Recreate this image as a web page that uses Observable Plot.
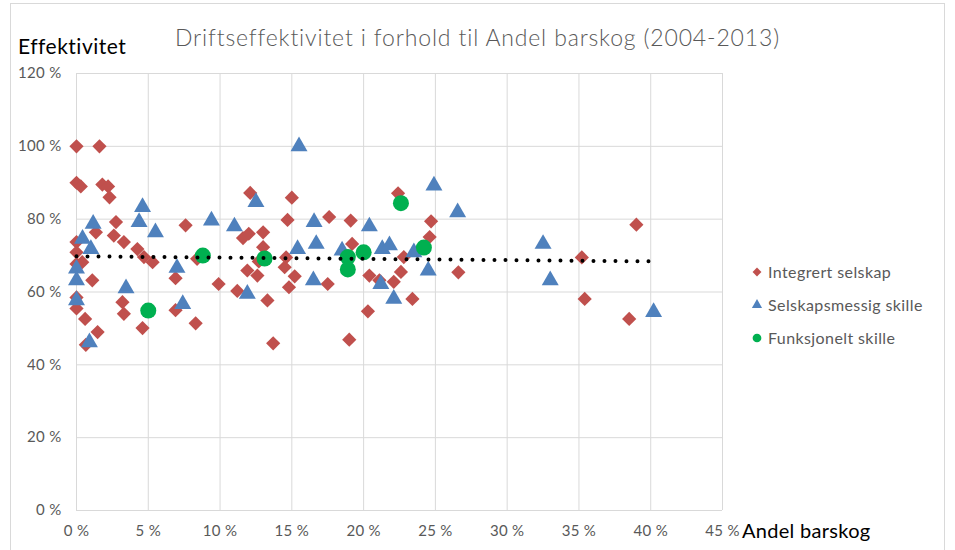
<!DOCTYPE html>
<html>
<head>
<meta charset="utf-8">
<script src="https://cdn.jsdelivr.net/npm/d3@7"></script>
<script src="https://cdn.jsdelivr.net/npm/@observablehq/plot@0.6"></script>
<style>
  html, body { margin: 0; padding: 0; background: #fff; }
  #chart { position: relative; width: 955px; height: 550px; overflow: hidden; font-family: Lato, "Open Sans", sans-serif; }
  #frame { position: absolute; left: 10px; top: 3px; width: 935px; height: 560px; border: 1px solid #d9d9d9; box-sizing: border-box; }
  #title { position: absolute; left: 0; width: 955px; top: 23px; text-align: center; font-size: 23px; letter-spacing: 0.85px; color: #595959; font-weight: 300; }
  #ylab { position: absolute; left: 18px; top: 33px; font-size: 21px; letter-spacing: 0.5px; color: #000; }
  #xlab { position: absolute; left: 742px; top: 518px; font-size: 20px; letter-spacing: 0.3px; color: #000; }
  #legend { position: absolute; left: 751px; top: 255px; font-size: 16px; letter-spacing: 0.4px; color: #595959; }
  .item { display: flex; align-items: center; height: 33px; }
  .item svg { margin-right: 5px; }
  #plot { position: absolute; left: 0; top: 0; }
</style>
</head>
<body>
<div id="chart">
  <div id="frame"></div>
  <div id="plot"></div>
  <div id="title">Driftseffektivitet i forhold til Andel barskog (2004-2013)</div>
  <div id="ylab">Effektivitet</div>
  <div id="xlab">Andel barskog</div>
  <div id="legend"></div>
</div>
<script>
// Data: [Andel barskog %, Effektivitet %]
const integrert = [
  [0.0,100],[1.6,100],[0.0,90],[0.3,89],[1.8,89.5],[2.2,89],[2.3,86],
  [2.75,79.2],[1.35,76.4],[2.6,75.5],[3.3,73.7],[0.0,73.7],[0.0,70.9],[0.4,68.2],[0.0,67.7],
  [1.1,63.2],[0.0,58.5],[0.0,55.5],[0.6,52.6],[1.47,49],[0.65,45.5],
  [4.24,71.8],[4.7,69.6],[5.3,68.2],[3.2,57.2],[3.3,54],[4.6,50.1],
  [7.6,78.3],[8.4,69.1],[6.9,63.8],[6.9,55],[8.3,51.4],[9.9,62.2],[11.2,60.3],
  [12.1,87.2],[11.6,74.8],[12.0,76.0],[13.0,76.4],[13.0,72.3],[12.7,68.4],[11.9,65.9],[12.6,64.5],
  [13.3,57.7],[13.7,45.9],[15.0,85.9],[14.7,79.8],[14.6,69.5],[14.5,66.8],[15.2,64.3],[14.8,61.3],
  [17.6,80.6],[17.5,62.2],[19.1,79.6],[19.2,73.2],[19.0,46.9],
  [20.4,64.5],[21.1,63.2],[20.3,54.7],[22.4,87.1],[22.8,69.6],[22.6,65.5],[22.1,62.8],[23.4,58.1],
  [24.7,79.4],[24.6,75.1],[26.6,65.4],[35.2,69.5],[35.4,58.1],[38.5,52.6],[39.0,78.5]
];
const selskapsmessig = [
  [0.0,66.4],[0.0,63.2],[0.0,57.7],[0.9,46.2],[0.42,74.6],[1.0,71.8],[1.16,78.7],
  [3.45,61],[4.6,83.3],[4.36,79.2],[5.5,76.4],[7.0,66.6],[7.4,56.7],[9.4,79.6],[11.0,78],
  [12.5,84.7],[11.9,59.5],[15.5,100],[15.4,71.8],[16.55,79.2],[16.7,73.2],[16.5,63.2],
  [18.5,71.4],[20.4,78],[21.3,71.8],[21.8,72.8],[21.2,62.2],[22.1,58.1],[23.5,70.9],
  [24.9,89.2],[24.5,65.9],[26.55,81.9],[32.5,73.2],[33.0,63.2],[40.2,54.5]
];
const funksjonelt = [
  [5.0,54.9],[8.8,70.0],[13.1,69.2],[18.9,69.6],[18.9,66.2],[20.0,70.9],[22.6,84.4],[24.2,72.2]
];
const trend = [[0,69.8],[40.2,68.4]];
const xTicks = [0,5,10,15,20,25,30,35,40,45];
const yTicks = [0,20,40,60,80,100,120];
const seriesNames = ["Integrert selskap","Selskapsmessig skille","Funksjonelt skille"];
const seriesColors = ["#C0504D","#4F81BD","#00B050"];

const pct = d => d + " %";

const chart = Plot.plot({
  width: 955,
  height: 550,
  marginLeft: 76,
  marginRight: 233,
  marginTop: 73,
  marginBottom: 40,
  style: {fontFamily: "Lato, sans-serif", fontSize: "15px", letterSpacing: "0.3px", color: "#595959", background: "transparent"},
  x: {domain: [0, 45], label: null},
  y: {domain: [0, 120], label: null},
  marks: [
    Plot.gridX(xTicks, {stroke: "#d9d9d9", strokeOpacity: 1, strokeWidth: 1}),
    Plot.gridY(yTicks, {stroke: "#d9d9d9", strokeOpacity: 1, strokeWidth: 1}),
    Plot.axisX(xTicks, {tickSize: 0, tickPadding: 15, tickFormat: pct, fill: "#595959", label: null}),
    Plot.axisY(yTicks, {tickSize: 0, tickPadding: 15, tickFormat: pct, fill: "#595959", label: null}),
    Plot.dot(integrert, {x: d => d[0], y: d => d[1], symbol: "diamond2", r: 6.4, fill: seriesColors[0], stroke: null}),
    Plot.dot(selskapsmessig, {x: d => d[0], y: d => d[1], symbol: "triangle", r: 6.3, fill: seriesColors[1], stroke: null}),
    Plot.dot(funksjonelt, {x: d => d[0], y: d => d[1], symbol: "circle", r: 8, fill: seriesColors[2], stroke: null}),
    Plot.line(trend, {x: d => d[0], y: d => d[1], stroke: "#000", strokeWidth: 4, strokeDasharray: "0 11", strokeLinecap: "round"})
  ]
});
document.getElementById("plot").appendChild(chart);

// Legend
const symbols = [d3.symbolDiamond2, d3.symbolTriangle, d3.symbolCircle];
const sizes = [50, 45, 60];
const legend = document.getElementById("legend");
seriesNames.forEach((name, i) => {
  const item = document.createElement("div");
  item.className = "item";
  const path = d3.symbol(symbols[i], sizes[i])();
  item.innerHTML = `<svg width="12" height="12" viewBox="-6 -6 12 12"><path d="${path}" fill="${seriesColors[i]}"/></svg><span>${name}</span>`;
  legend.appendChild(item);
});
</script>
</body>
</html>
